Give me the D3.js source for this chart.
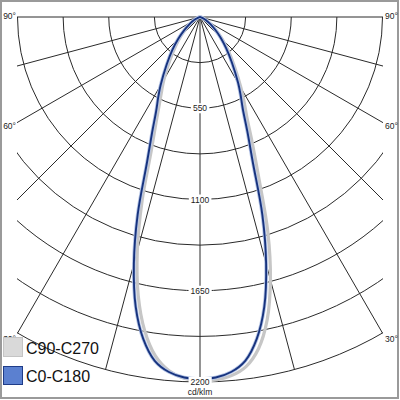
<!DOCTYPE html>
<html>
<head>
<meta charset="utf-8">
<script src="https://cdn.jsdelivr.net/npm/d3@7"></script>
<style>
html,body{margin:0;padding:0;background:#fff;}
svg{display:block;}
</style>
</head>
<body>
<svg id="chart" width="400" height="400"></svg>
<script>
// ---- data ----
const gammas = [0,2.5,5,7.5,10,12.5,15,17.5,20,22.5,25,27.5,30,35,40,45,50,55,60,65,70,75,80,85,90];
// C0-C180 plane (right half = C0, left half = C180), cd/klm
const c0   = [2182,2175,2148,2090,1970,1790,1540,1250,930,745,610,530,460,335,245,175,120,80,50,28,14,6,3,1,0];
const c180 = [2182,2175,2148,2090,1970,1790,1540,1250,935,755,625,545,475,350,260,185,125,82,52,29,14,6,3,1,0];
// C90-C270 plane (right half = C90, left half = C270)
const c90  = [2195,2190,2170,2125,2030,1870,1640,1360,1040,825,670,575,495,360,265,190,130,85,52,29,14,6,3,1,0];
const c270 = [2195,2180,2140,2060,1920,1720,1460,1160,860,695,580,500,435,315,230,165,112,74,46,26,12,5,2,1,0];
const circleValues = [275,550,825,1100,1375,1650,1925,2200];
const circleLabels = [550,1100,1650,2200];
const spokeAngles = [-90,-75,-60,-45,-30,-15,0,15,30,45,60,75,90];
const angleLabels = [90,60,30];
const unitLabel = "cd/klm";
const legendNames = ["C90-C270","C0-C180"];

// ---- layout ----
const cx = 200, cy = 17, R = 365;
const box = {x0:17, y0:17, x1:383, y1:383};
const svg = d3.select("#chart");
const r = d3.scaleLinear().domain([0,2200]).range([0,R]);
const rad = d => d*Math.PI/180;

svg.append("rect").attr("x",1).attr("y",1).attr("width",397).attr("height",397)
  .attr("fill","#fff").attr("stroke","#9a9a9a").attr("stroke-width",2);

svg.append("defs").append("clipPath").attr("id","boxclip")
  .append("rect").attr("x",box.x0).attr("y",box.y0-1).attr("width",box.x1-box.x0).attr("height",box.y1-box.y0+1);

const gridOuter = svg.append("g").attr("clip-path","url(#boxclip)");
const gridG = gridOuter.append("g").attr("transform",`translate(${cx},${cy})`);

// circles (lower half arcs)
gridG.selectAll("path.circ").data(circleValues).join("path")
  .attr("class","circ")
  .attr("d", d => { const p = d3.path(); p.arc(0,0,r(d),0,Math.PI,false); return p.toString(); })
  .attr("fill","none").attr("stroke","#2a2a2a").attr("stroke-width",1);

// spokes
function spokeEnd(a){
  const s = Math.sin(rad(a)), c = Math.cos(rad(a));
  let len = R;
  if (Math.abs(s) > 1e-6) len = Math.min(len, (box.x1-cx)/Math.abs(s));
  if (c > 1e-6) len = Math.min(len, (box.y1-cy)/c);
  return [len*s, len*c];
}
gridG.selectAll("line.spoke").data(spokeAngles).join("line")
  .attr("x1",0).attr("y1",0)
  .attr("x2",d=>spokeEnd(d)[0]).attr("y2",d=>spokeEnd(d)[1])
  .attr("stroke","#2a2a2a").attr("stroke-width",1);

// curves
function curveData(left,right){
  const pts = [];
  for (let i=gammas.length-1;i>=0;i--) pts.push([Math.PI+rad(gammas[i]), r(left[i])]);
  for (let i=1;i<gammas.length;i++) pts.push([Math.PI-rad(gammas[i]), r(right[i])]);
  return pts;
}
const line = d3.lineRadial().angle(d=>d[0]).radius(d=>d[1]).curve(d3.curveCatmullRom.alpha(0.5));
const curves = svg.append("g").attr("transform",`translate(${cx},${cy})`);
curves.append("path").attr("d",line(curveData(c270,c90)))
  .attr("fill","none").attr("stroke","#c6c6c6").attr("stroke-width",3.2).attr("stroke-linejoin","round");
curves.append("path").attr("d",line(curveData(c180,c0)))
  .attr("fill","none").attr("stroke","#b6c5e6").attr("stroke-width",3.6);
curves.append("path").attr("d",line(curveData(c180,c0)))
  .attr("fill","none").attr("stroke","#17337e").attr("stroke-width",1.9);

// value labels
const lab = svg.append("g").attr("font-family","Arial, 'Liberation Sans', sans-serif").attr("font-size",8.5).attr("fill","#222");
circleLabels.forEach(v=>{
  const y = cy + r(v);
  const t = lab.append("text").attr("x",cx).attr("y",y+3).attr("text-anchor","middle").text(v);
  const bb = t.node().getBBox();
  lab.insert("rect","text").attr("x",bb.x-2).attr("y",bb.y).attr("width",bb.width+4).attr("height",bb.height).attr("fill","#fff");
});
lab.append("text").attr("x",cx).attr("y",395).attr("text-anchor","middle").text(unitLabel);

// angle labels
angleLabels.forEach(a=>{
  const e = spokeEnd(a);
  const y = cy + e[1] + 8*Math.cos(rad(a)) + 2;
  lab.append("text").attr("x",16).attr("y",y).attr("text-anchor","end").text(a+"°");
  lab.append("text").attr("x",385).attr("y",y).attr("text-anchor","start").text(a+"°");
});

// legend
const leg = svg.append("g").attr("font-family","Arial, 'Liberation Sans', sans-serif").attr("font-size",16).attr("fill","#111");
leg.append("rect").attr("x",3.5).attr("y",337.5).attr("width",19).attr("height",19).attr("fill","#d9d9d9").attr("stroke","#c4c4c4");
leg.append("text").attr("x",26).attr("y",354).text(legendNames[0]);
leg.append("rect").attr("x",3.5).attr("y",366.5).attr("width",19).attr("height",18).attr("fill","#5b80d0").attr("stroke","#1f3c88");
leg.append("text").attr("x",26).attr("y",382).text(legendNames[1]);
</script>
</body>
</html>
